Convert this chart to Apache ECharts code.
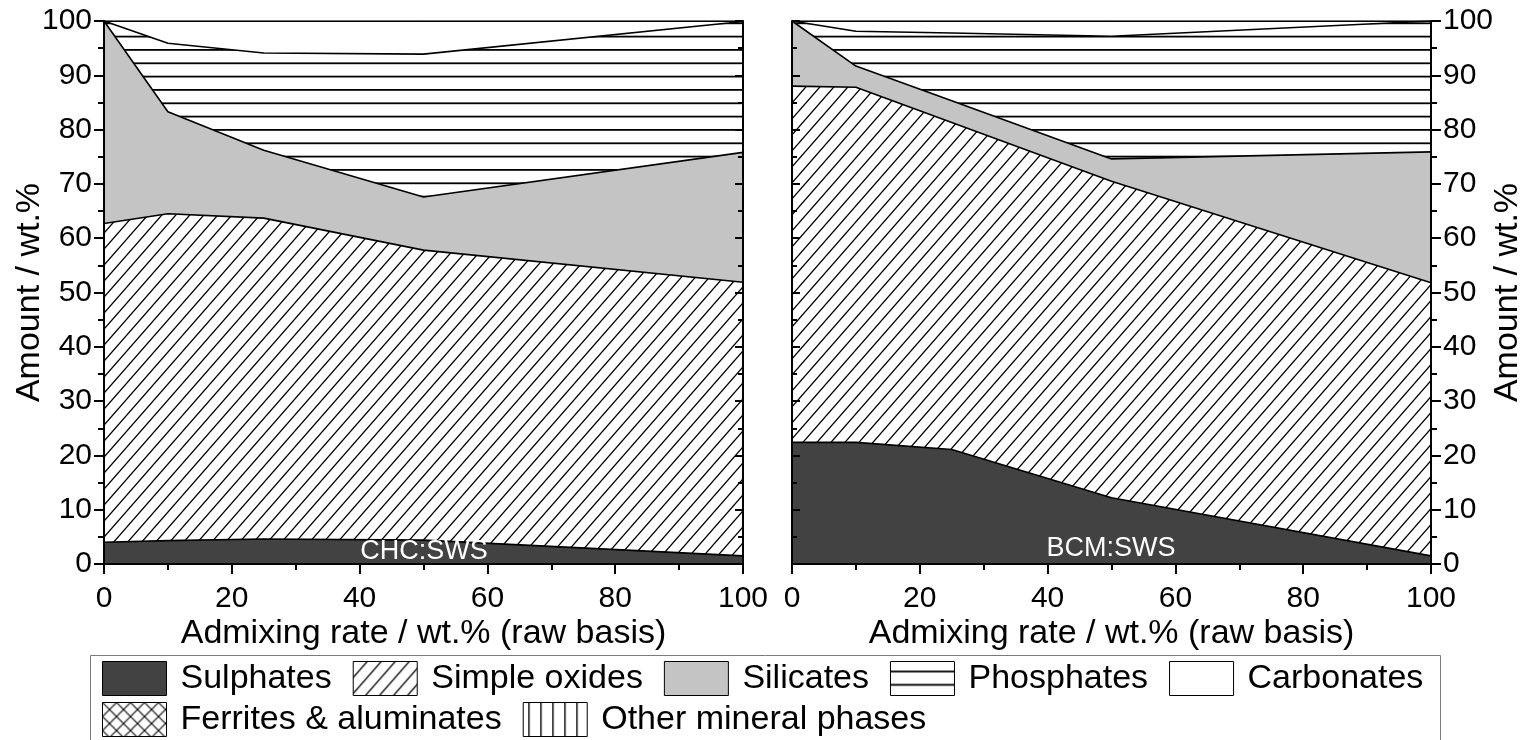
<!DOCTYPE html>
<html><head><meta charset="utf-8">
<script src="https://cdn.jsdelivr.net/npm/echarts@6/dist/echarts.min.js"></script>
<style>html,body{margin:0;padding:0;background:#fff}#c{width:1526px;height:740px}</style>
</head><body><div id="c"></div>
<script>
// ---- data ----
const xRates = [0, 10, 25, 50, 100];
const phaseNames = ['Sulphates', 'Simple oxides', 'Silicates', 'Phosphates', 'Carbonates', 'Ferrites & aluminates', 'Other mineral phases'];
// CHC:SWS (left panel), wt.% per phase
const chcSulphates    = [4.0, 4.3, 4.6, 4.4, 1.5];
const chcSimpleOxides = [58.7, 60.2, 59.1, 53.4, 50.4];
const chcSilicates    = [37.3, 18.8, 12.5, 9.8, 23.9];
const chcPhosphates   = [0, 12.6, 17.9, 26.3, 24.1];
const chcCarbonates   = [0, 4.1, 5.9, 6.1, 0.1];
// BCM:SWS (right panel)
const bcmSulphates    = [22.4, 22.4, 21.1, 12.2, 1.5];
const bcmSimpleOxides = [65.6, 65.4, 60.2, 58.3, 50.3];
const bcmSilicates    = [12.0, 3.9, 4.0, 4.1, 24.1];
const bcmPhosphates   = [0, 6.4, 12.5, 22.6, 24.1];
const bcmCarbonates   = [0, 1.9, 2.2, 2.8, 0];
const panelLabels = ['CHC:SWS', 'BCM:SWS'];
const xTitle = 'Admixing rate / wt.% (raw basis)';
const yTitle = 'Amount / wt.%';

// ---- patterns ----
function pat(w, h, draw) {
  const c = document.createElement('canvas');
  c.width = w; c.height = h;
  const g = c.getContext('2d');
  g.fillStyle = '#fff'; g.fillRect(0, 0, w, h);
  g.strokeStyle = '#000'; g.fillStyle = '#000';
  draw(g, w, h);
  return { image: c, repeat: 'repeat' };
}
function diagLines(g, w, h) {
  g.beginPath();
  g.moveTo(-w, 2 * h); g.lineTo(2 * w, -h);
  g.moveTo(-w, h); g.lineTo(w, -h);
  g.moveTo(0, 2 * h); g.lineTo(2 * w, 0);
  g.stroke();
}
const fillSulph = '#424242';
const fillOxide = pat(14, 16, (g, w, h) => { g.lineWidth = 1.3; diagLines(g, w, h); });
const fillSilic = '#c4c4c4';
const fillPhos = pat(8, 40, (g, w) => { g.fillRect(0, 9, w, 1.8); g.fillRect(0, 22.4, w, 1.8); g.fillRect(0, 35.7, w, 1.8); });
const fillCarb = '#ffffff';
const fillFerr = pat(14, 14, (g, w, h) => {
  g.lineWidth = 1.1; diagLines(g, w, h);
  g.beginPath(); g.moveTo(-w, -h); g.lineTo(2 * w, 2 * h); g.moveTo(-w, 0); g.lineTo(w, 2 * h); g.moveTo(0, -h); g.lineTo(2 * w, h); g.stroke();
});
const fillOther = pat(12, 8, (g, w, h) => { g.fillRect(5, 0, 1.4, h); });
const fills = [fillSulph, fillOxide, fillSilic, fillPhos, fillCarb, fillFerr, fillOther];

const FONT = '"Liberation Sans", Arial, sans-serif';
const chart = echarts.init(document.getElementById('c'), null, { renderer: 'canvas' });

// cumulative tops (stacking done here, since both axes are value axes)
function cumulative(arrays) {
  const run = xRates.map(() => 0);
  return arrays.map(arr => arr.map((v, i) => (run[i] += v)));
}

function panelSeries(gi, arrays) {
  const tops = cumulative(arrays);
  return tops.map((arr, k) => ({
    name: phaseNames[k], type: 'line', xAxisIndex: gi * 2, yAxisIndex: gi * 2,
    symbol: 'none', z: 10 - k, silent: true,
    data: xRates.map((x, i) => [x, Math.min(100, +arr[i].toFixed(3))]),
    lineStyle: { color: '#000', width: 1.6 },
    itemStyle: { color: '#000' },
    areaStyle: { color: fills[k], opacity: 1, origin: 'start' }
  })).concat([5, 6].map(k => ({
    name: phaseNames[k], type: 'line', xAxisIndex: gi * 2, yAxisIndex: gi * 2,
    symbol: 'none', data: [], lineStyle: { color: '#000' }, areaStyle: { color: fills[k] }
  })));
}

const axisTxt = { color: '#000', fontSize: 30, fontFamily: FONT };
const nameTxt = { color: '#000', fontSize: 34, fontFamily: FONT };
function xAx(gi) {
  return [{
    gridIndex: gi, type: 'value', min: 0, max: 100, interval: 20, position: 'bottom', z: 20,
    axisLine: { show: true, onZero: false, lineStyle: { color: '#000', width: 2 } },
    axisTick: { show: true, length: 10, lineStyle: { color: '#000', width: 2 } },
    minorTick: { show: true, splitNumber: 2, length: 6, lineStyle: { color: '#000', width: 2 } },
    splitLine: { show: false }, minorSplitLine: { show: false },
    axisLabel: Object.assign({ margin: 20, showMinLabel: true, showMaxLabel: true, alignMinLabel: 'center', alignMaxLabel: 'center', hideOverlap: false }, axisTxt),
    name: xTitle, nameLocation: 'middle', nameGap: 53, nameMoveOverlap: false, nameTextStyle: nameTxt
  }, {
    gridIndex: gi, type: 'value', min: 0, max: 100, position: 'top', z: 20,
    axisLine: { show: true, onZero: false, lineStyle: { color: '#000', width: 1 } },
    axisTick: { show: false }, axisLabel: { show: false }, splitLine: { show: false }
  }];
}
function yAx(gi, labelSide, gap) {
  const outer = {
    gridIndex: gi, type: 'value', min: 0, max: 100, interval: 10, position: labelSide, z: 20,
    axisLine: { show: true, onZero: false, lineStyle: { color: '#000', width: 2 } },
    axisTick: { show: true, length: 10, lineStyle: { color: '#000', width: 2 } },
    minorTick: { show: true, splitNumber: 2, length: 6, lineStyle: { color: '#000', width: 2 } },
    splitLine: { show: false },
    axisLabel: Object.assign({ margin: 12 }, axisTxt),
    name: yTitle, nameLocation: 'middle', nameGap: gap, nameRotate: 90, nameMoveOverlap: false, nameTextStyle: nameTxt
  };
  const inner = {
    gridIndex: gi, type: 'value', min: 0, max: 100, interval: 10, position: labelSide === 'left' ? 'right' : 'left', z: 20,
    axisLine: { show: true, onZero: false, lineStyle: { color: '#000', width: 2 } },
    axisTick: { show: true, inside: true, length: 8, lineStyle: { color: '#000', width: 2 } },
    minorTick: { show: true, splitNumber: 2, length: 5, lineStyle: { color: '#000', width: 2 } },
    splitLine: { show: false }, axisLabel: { show: false }
  };
  return [outer, inner];
}

function legendRow(names, top) {
  return {
    left: 102, top: top, orient: 'horizontal', selectedMode: false,
    icon: 'rect', itemWidth: 64, itemHeight: 34, itemGap: 21, padding: 0,
    textStyle: { color: '#000', fontSize: 34, fontFamily: FONT, padding: [0, 0, 0, 9] },
    itemStyle: { borderColor: '#000', borderWidth: 1 },
    data: names.map(n => ({ name: n, itemStyle: { color: fills[phaseNames.indexOf(n)], borderColor: '#000', borderWidth: 1 } }))
  };
}

const option = {
  animation: false,
  backgroundColor: '#fff',
  textStyle: { fontFamily: FONT },
  grid: [
    { left: 104, right: 783, top: 21, bottom: 176, outerBoundsMode: 'none', containLabel: false },
    { left: 792, right: 95, top: 21, bottom: 176, outerBoundsMode: 'none', containLabel: false }
  ],
  xAxis: xAx(0).concat(xAx(1)),
  yAxis: yAx(0, 'left', 57).concat(yAx(1, 'right', 60)),
  legend: [legendRow(phaseNames.slice(0, 5), 661), legendRow(phaseNames.slice(5), 702)],
  series: panelSeries(0, [chcSulphates, chcSimpleOxides, chcSilicates, chcPhosphates, chcCarbonates])
    .concat(panelSeries(1, [bcmSulphates, bcmSimpleOxides, bcmSilicates, bcmPhosphates, bcmCarbonates])),
  graphic: [
    { type: 'rect', shape: { x: 90.5, y: 655.5, width: 1350, height: 100 }, z: 0, silent: true,
      style: { fill: 'none', stroke: '#7a7a7a', lineWidth: 1 } },
    { type: 'text', x: 424, y: 552, z: 100, style: { text: panelLabels[0], fill: '#fff', font: '27px ' + FONT, align: 'center', verticalAlign: 'middle' } },
    { type: 'text', x: 1111, y: 549, z: 100, style: { text: panelLabels[1], fill: '#fff', font: '27px ' + FONT, align: 'center', verticalAlign: 'middle' } }
  ]
};
chart.setOption(option);
</script></body></html>
